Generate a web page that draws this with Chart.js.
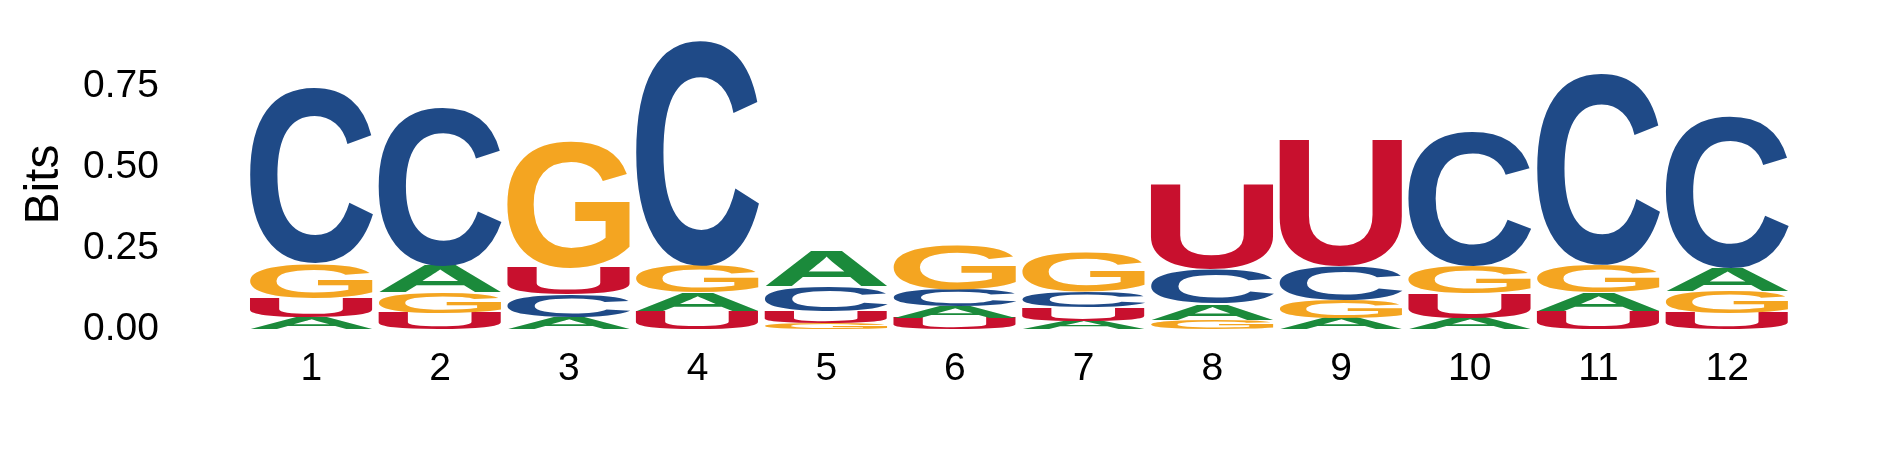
<!DOCTYPE html>
<html><head><meta charset="utf-8">
<script src="https://cdn.jsdelivr.net/npm/chart.js@4.4.1/dist/chart.umd.min.js"></script>
<style>html,body{margin:0;padding:0;background:#fff;overflow:hidden}</style>
</head><body>
<canvas id="c" width="1889" height="472"></canvas>
<script>
// ---- data (information content in bits per nucleotide at each position) ----
const positions = ['1','2','3','4','5','6','7','8','9','10','11','12'];
const bitsA = [0.036,0.081,0.036,0.057,0.106,0.036,0.026,0.049,0.034,0.034,0.057,0.072];
const bitsC = [0.541,0.487,0.070,0.694,0.076,0.052,0.050,0.107,0.106,0.414,0.590,0.466];
const bitsG = [0.106,0.064,0.388,0.083,0.019,0.138,0.122,0.029,0.055,0.086,0.086,0.067];
const bitsU = [0.060,0.050,0.083,0.055,0.036,0.034,0.041,0.259,0.390,0.075,0.055,0.050];
const yTicks = [0, 0.25, 0.5, 0.75];
const letters = ['A','C','G','U'];
const letterColors = {A:'#1B8A3B', C:'#1F4A87', G:'#F4A521', U:'#C8102E'};

// build stacked datasets by rank (smallest at bottom, largest on top)
const byLetter = {A:bitsA, C:bitsC, G:bitsG, U:bitsU};
const rankData = [[],[],[],[]];
const rankLetter = [[],[],[],[]];
positions.forEach((p, i) => {
  const order = letters.slice().sort((a,b) => byLetter[a][i] - byLetter[b][i]);
  order.forEach((L, r) => { rankData[r].push(byLetter[L][i]); rankLetter[r].push(L); });
});
const datasets = rankData.map((d, r) => ({
  label: 'rank' + r, data: d, letters: rankLetter[r],
  backgroundColor: 'rgba(0,0,0,0)', borderWidth: 0,
  categoryPercentage: 1.0, barPercentage: 0.955, stack: 's'
}));

const FONT = '"Liberation Sans", Arial, Helvetica, sans-serif';
const glyphPlugin = {
  id: 'glyphs',
  afterDatasetsDraw(chart) {
    const ctx = chart.ctx;
    ctx.save();
    ctx.font = 'bold 200px ' + FONT;
    ctx.textAlign = 'left';
    ctx.textBaseline = 'alphabetic';
    chart.data.datasets.forEach((ds, d) => {
      const meta = chart.getDatasetMeta(d);
      meta.data.forEach((bar, i) => {
        const {x, y, base, width} = bar.getProps(['x','y','base','width'], true);
        const L = ds.letters[i];
        const top = Math.min(y, base), h = Math.abs(base - y);
        if (h <= 0.3) return;
        const left = x - width / 2;
        const m = ctx.measureText(L);
        const gw = m.actualBoundingBoxLeft + m.actualBoundingBoxRight;
        const gh = m.actualBoundingBoxAscent + m.actualBoundingBoxDescent;
        ctx.save();
        ctx.translate(left, top);
        ctx.scale(width / gw, h / gh);
        ctx.fillStyle = letterColors[L];
        ctx.fillText(L, m.actualBoundingBoxLeft, m.actualBoundingBoxAscent);
        ctx.restore();
      });
    });
    ctx.restore();
  }
};

Chart.defaults.color = '#000';
Chart.defaults.font.family = FONT;

new Chart(document.getElementById('c'), {
  type: 'bar',
  data: { labels: positions, datasets },
  options: {
    responsive: false, animation: false, devicePixelRatio: 1,
    layout: { padding: { top: 40, right: 97.4, left: 0, bottom: 62 } },
    plugins: { legend: { display: false }, tooltip: { enabled: false } },
    scales: {
      x: {
        stacked: true,
        grid: { display: false, drawTicks: false },
        border: { display: false },
        ticks: { font: { size: 39, lineHeight: 1.2 }, padding: 17, maxRotation: 0, autoSkip: false }
      },
      y: {
        stacked: true, min: 0, max: 0.891,
        grid: { display: false, drawTicks: false },
        border: { display: false },
        ticks: { font: { size: 39 }, padding: 88, callback: v => Number(v).toFixed(2) },
        afterBuildTicks(s) { s.ticks = yTicks.map(v => ({ value: v })); s.min = 0; s.max = 0.891; },
        afterFit(s) { s.width = 247; s.paddingTop = 0; s.paddingBottom = 0; },
        title: { display: true, text: 'Bits', font: { size: 48 }, padding: { top: 16, bottom: 0 } }
      }
    }
  },
  plugins: [glyphPlugin]
});
</script>
</body></html>
